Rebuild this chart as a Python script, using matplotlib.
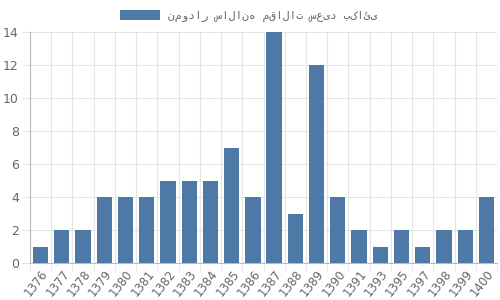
import matplotlib
matplotlib.use("Agg")
import matplotlib.pyplot as plt
import numpy as np

years = ["1376", "1377", "1378", "1379", "1380", "1381", "1382", "1383", "1384", "1385",
         "1386", "1387", "1388", "1389", "1390", "1391", "1393", "1395", "1397", "1398",
         "1399", "1400"]
counts = [1, 2, 2, 4, 4, 4, 5, 5, 5, 7, 4, 14, 3, 12, 4, 2, 1, 2, 1, 2, 2, 4]
legend_label = "نمودار سالانه مقالات سعید بکائی"

bar_color = "#4e79a7"
text_color = "#666666"
grid_color = "#e5e5e5"
axis_color = "#bbbbbb"

plt.rcParams['font.family'] = ['DejaVu Sans']

fig = plt.figure(figsize=(5, 3), dpi=100)
ax = fig.add_axes([30/500, 1-263/300, (497-30)/500, (263-32)/300])

x = np.arange(len(years))
bars = ax.bar(x, counts, width=0.72, color=bar_color, label=legend_label, zorder=3)

ax.set_xlim(-0.5, len(years) - 0.5)
ax.set_ylim(0, 14)
ax.set_yticks(range(0, 15, 2))
ax.set_xticks(x)
ax.set_xticklabels(years, rotation=52, ha='right', rotation_mode='anchor')
ax.set_xticks(np.arange(-0.5, len(years), 1), minor=True)

ax.tick_params(axis='x', which='major', length=0, pad=3, labelsize=8.5, labelcolor=text_color)
ax.tick_params(axis='x', which='minor', length=6, color=grid_color)
ax.tick_params(axis='y', length=6, color=grid_color, labelsize=9, labelcolor=text_color, pad=2)

ax.grid(True, axis='y', color=grid_color, linewidth=0.8, zorder=0)
ax.grid(True, axis='x', which='minor', color=grid_color, linewidth=0.8, zorder=0)
for side in ['top', 'right']:
    ax.spines[side].set_visible(False)
for side in ['left', 'bottom']:
    ax.spines[side].set_color(axis_color)
    ax.spines[side].set_linewidth(0.8)

leg = fig.legend(handles=[bars], labels=[legend_label], loc='center',
                 bbox_to_anchor=(249/500, 1-16/300), frameon=False,
                 handlelength=3.6, handleheight=1.0, handletextpad=0.7,
                 prop={'family': ['DejaVu Sans Mono'], 'size': 8},
                 labelcolor=text_color)

fig.savefig("out.png", dpi=100)
